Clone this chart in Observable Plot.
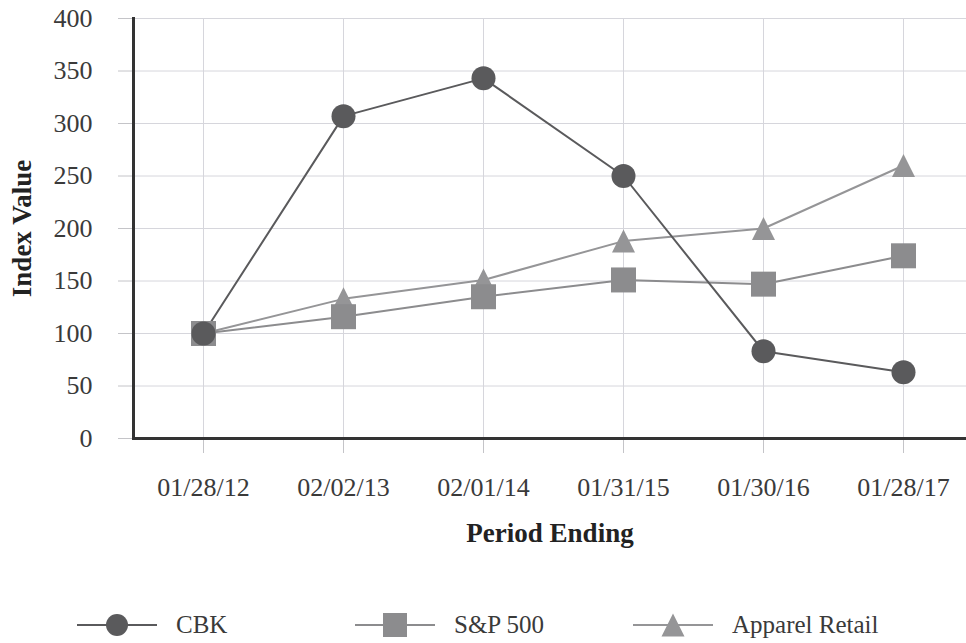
<!DOCTYPE html>
<html><head><meta charset="utf-8">
<script src="https://cdn.jsdelivr.net/npm/d3@7"></script>
<script src="https://cdn.jsdelivr.net/npm/@observablehq/plot@0.6"></script>
<style>
body{margin:0;background:#fff;font-family:"Liberation Serif","Times New Roman",serif;}
#wrap{position:relative;width:966px;height:643px;overflow:hidden;}
#legend{position:absolute;left:0;top:611px;width:966px;height:28px;}
.item{position:absolute;top:0;height:28px;display:flex;align-items:center;font-size:25px;color:#3a3a3a;white-space:nowrap;}
.item svg{margin-right:19px;}
g[aria-label="y-axis label"] text, g[aria-label="x-axis label"] text{font-weight:bold;fill:#222;font-size:27px;}
g[aria-label="y-axis tick"] path, g[aria-label="x-axis tick"] path{stroke:#c4c4c8;}
</style></head><body>
<div id="wrap"><div id="chart"></div><div id="legend"></div></div>
<script>
const periods = ["01/28/12","02/02/13","02/01/14","01/31/15","01/30/16","01/28/17"];
const cbk = [100,307,343,250,83,63];
const sp500 = [100,116,135,151,147,174];
const apparel = [100,133,151,188,200,260];
const seriesNames = ["CBK","S&P 500","Apparel Retail"];
const seriesColors = ["#5a5a5c","#8c8c8e","#959597"];
const yTicks = [0,50,100,150,200,250,300,350,400];

const data = periods.flatMap((p,i)=>[
  {period:p, series:"Apparel Retail", value:apparel[i]},
  {period:p, series:"S&P 500", value:sp500[i]},
  {period:p, series:"CBK", value:cbk[i]}
]);

// bbox-centred symbols (Excel-like markers)
const triSym = {draw(ctx, size){const r=Math.sqrt(size/Math.PI); ctx.moveTo(0,-r); ctx.lineTo(r,r); ctx.lineTo(-r,r); ctx.closePath();}};
const sqSym = {draw(ctx, size){const r=Math.sqrt(size/Math.PI); ctx.moveTo(-r,-r); ctx.lineTo(r,-r); ctx.lineTo(r,r); ctx.lineTo(-r,r); ctx.closePath();}};

const chart = Plot.plot({
  width:966, height:600,
  marginLeft:133, marginRight:0, marginTop:18, marginBottom:162,
  style:{fontFamily:"Liberation Serif, Times New Roman, serif", fontSize:"26px", color:"#3a3a3a", background:"#fff"},
  x:{type:"point", domain:periods, range:[203,903], padding:0},
  y:{domain:[0,400]},
  color:{domain:seriesNames, range:seriesColors},
  marks:[
    Plot.gridY(yTicks, {stroke:"#d6d6dc", strokeOpacity:1}),
    Plot.gridX(periods, {stroke:"#d6d6dc", strokeOpacity:1}),
    Plot.axisY(yTicks, {tickSize:15, tickPadding:26, label:"Index Value", labelAnchor:"center", labelArrow:"none", labelOffset:122}),
    Plot.axisX(periods, {tickSize:15, tickPadding:24, label:"Period Ending", labelAnchor:"center", labelArrow:"none", labelOffset:103}),
    Plot.ruleY([0], {stroke:"#333", strokeWidth:3}),
    Plot.frame({anchor:"left", stroke:"#333", strokeWidth:3}),
    Plot.line(data, {x:"period", y:"value", z:"series", stroke:"series", strokeWidth:2}),
    Plot.dot(data, {filter:d=>d.series==="Apparel Retail", x:"period", y:"value", fill:"series", symbol:triSym, r:11.5}),
    Plot.dot(data, {filter:d=>d.series==="S&P 500", x:"period", y:"value", fill:"series", symbol:sqSym, r:12.5}),
    Plot.dot(data, {filter:d=>d.series==="CBK", x:"period", y:"value", fill:"series", r:12})
  ]
});
document.getElementById("chart").appendChild(chart);

// legend
const legendLeft = [77, 355, 633];
const legendSyms = [d3.symbolCircle, sqSym, triSym];
const legendR = [11, 12, 11.5];
const legend = d3.select("#legend");
seriesNames.forEach((name,i)=>{
  const item = legend.append("div").attr("class","item").style("left",legendLeft[i]+"px");
  const svg = item.append("svg").attr("width",80).attr("height",28);
  svg.append("line").attr("x1",0).attr("x2",80).attr("y1",14).attr("y2",14).attr("stroke",seriesColors[i]).attr("stroke-width",2);
  svg.append("path").attr("transform","translate(40,14)")
     .attr("d", d3.symbol(legendSyms[i], Math.PI*legendR[i]*legendR[i])())
     .attr("fill", seriesColors[i]);
  item.append("span").text(name);
});
</script>
</body></html>
